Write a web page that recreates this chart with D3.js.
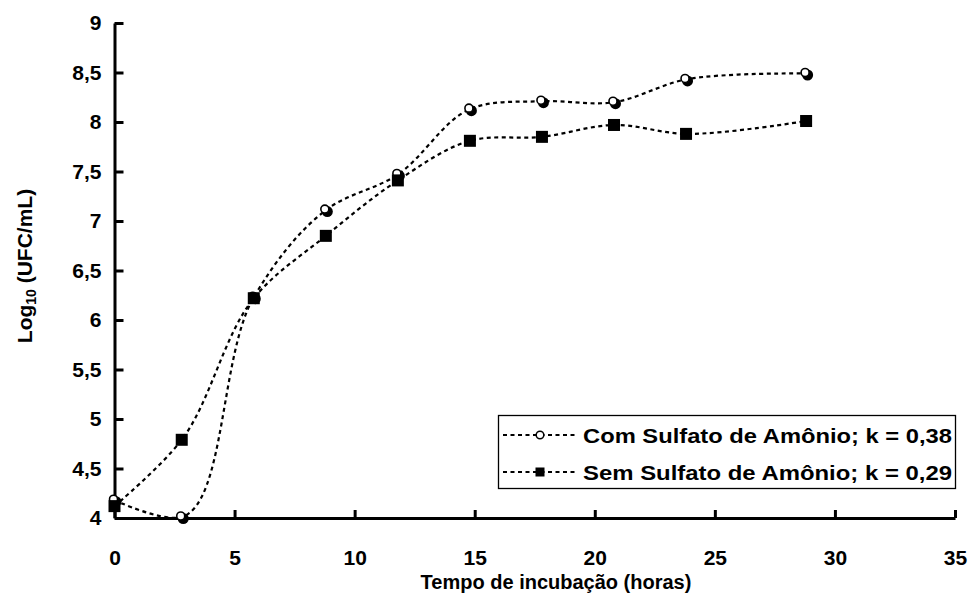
<!DOCTYPE html>
<html>
<head>
<meta charset="utf-8">
<script src="https://cdn.jsdelivr.net/npm/d3@7"></script>
<style>
  body { margin: 0; background: #fff; }
  svg { display: block; font-family: Arial, "Liberation Sans", sans-serif; font-weight: bold; }
</style>
</head>
<body>
<div id="main"></div>
<script>
// horas de incubação
const tempos = [0, 2.8, 5.8, 8.8, 11.8, 14.8, 17.8, 20.8, 23.8, 28.8];
// Log10 (UFC/mL)
const comSulfato = [4.18, 4.01, 6.23, 7.11, 7.47, 8.13, 8.21, 8.20, 8.43, 8.49];
const semSulfato = [4.12, 4.79, 6.22, 6.85, 7.41, 7.81, 7.85, 7.97, 7.88, 8.01];
const xTicks = [0, 5, 10, 15, 20, 25, 30, 35];
const yTicks = [4, 4.5, 5, 5.5, 6, 6.5, 7, 7.5, 8, 8.5, 9];
const legendLabels = ["Com Sulfato de Amônio; k = 0,38", "Sem Sulfato de Amônio; k = 0,29"];

const W = 968, H = 608;
const fmt = d => String(d).replace(".", ",");

const svg = d3.select("#main").append("svg")
  .attr("width", W)
  .attr("height", H);

const x = d3.scaleLinear().domain([0, 35]).range([114.5, 955]);
const y = d3.scaleLinear().domain([4, 9]).range([518, 23]);

// eixos
const gx = svg.append("g")
  .attr("transform", `translate(0,${y(4)})`)
  .call(d3.axisBottom(x).tickValues(xTicks).tickSize(-8).tickSizeOuter(0).tickPadding(32).tickFormat(fmt));
const gy = svg.append("g")
  .attr("transform", `translate(${x(0)},0)`)
  .call(d3.axisLeft(y).tickValues(yTicks).tickSize(-9).tickSizeOuter(0).tickPadding(13).tickFormat(fmt));

[gx, gy].forEach(g => {
  g.selectAll("path.domain").attr("stroke", "#000").attr("stroke-width", 3);
  g.selectAll(".tick line").attr("stroke", "#000").attr("stroke-width", 3);
  g.selectAll(".tick text")
    .attr("fill", "#000")
    .style("font-family", "Arial, 'Liberation Sans', sans-serif")
    .style("font-weight", "bold")
    .style("font-size", "21px");
});

// linhas
const line = d3.line()
  .x((d, i) => x(tempos[i]))
  .y(d => y(d))
  .curve(d3.curveCatmullRom.alpha(0.7));

const plot = svg.append("g");

[comSulfato, semSulfato].forEach(serie => {
  plot.append("path")
    .attr("d", line(serie))
    .attr("fill", "none")
    .attr("stroke", "#000")
    .attr("stroke-width", 2.2)
    .attr("stroke-dasharray", "4,3.5");
});

// marcadores: círculos (com sulfato)
const circ = plot.selectAll("g.circ")
  .data(comSulfato)
  .enter().append("g")
  .attr("class", "circ")
  .attr("transform", (d, i) => `translate(${x(tempos[i])},${y(d)})`);
circ.append("circle").attr("cx", 1.5).attr("cy", 1.5).attr("r", 5.5).attr("fill", "#000");
circ.append("circle").attr("cx", -1).attr("cy", -1).attr("r", 4)
  .attr("fill", "#fff").attr("stroke", "#000").attr("stroke-width", 1.6);

// marcadores: quadrados (sem sulfato)
plot.selectAll("rect.sq")
  .data(semSulfato)
  .enter().append("rect")
  .attr("class", "sq")
  .attr("x", (d, i) => x(tempos[i]) - 6)
  .attr("y", d => y(d) - 6)
  .attr("width", 12)
  .attr("height", 12)
  .attr("fill", "#000");

// títulos dos eixos
svg.append("text")
  .attr("x", 556)
  .attr("y", 589)
  .attr("text-anchor", "middle")
  .style("font-size", "20px")
  .text("Tempo de incubação (horas)");

const yt = svg.append("text")
  .attr("transform", "translate(32,266) rotate(-90)")
  .attr("text-anchor", "middle")
  .style("font-size", "21px");
yt.append("tspan").text("Log");
yt.append("tspan").attr("dy", 4).style("font-size", "14px").text("10");
yt.append("tspan").attr("dy", -4).text(" (UFC/mL)");

// legenda
const leg = svg.append("g");
leg.append("rect")
  .attr("x", 498.5).attr("y", 415.5)
  .attr("width", 457).attr("height", 73)
  .attr("fill", "#fff")
  .attr("stroke", "#000")
  .attr("stroke-width", 1.3);

const rows = [435, 472];
legendLabels.forEach((lab, i) => {
  const cy = rows[i];
  leg.append("line")
    .attr("x1", 503).attr("x2", 577)
    .attr("y1", cy).attr("y2", cy)
    .attr("stroke", "#000")
    .attr("stroke-width", 2.2)
    .attr("stroke-dasharray", "4,3.5");
  if (i === 0) {
    leg.append("circle").attr("cx", 540).attr("cy", cy).attr("r", 3.8)
      .attr("fill", "#fff").attr("stroke", "#000").attr("stroke-width", 1.5);
  } else {
    leg.append("rect").attr("x", 535.5).attr("y", cy - 4.5)
      .attr("width", 9).attr("height", 9).attr("fill", "#000");
  }
  leg.append("text")
    .attr("x", 583)
    .attr("y", cy + 8)
    .attr("textLength", 369)
    .attr("lengthAdjust", "spacingAndGlyphs")
    .style("font-size", "21px")
    .text(lab);
});
</script>
</body>
</html>
